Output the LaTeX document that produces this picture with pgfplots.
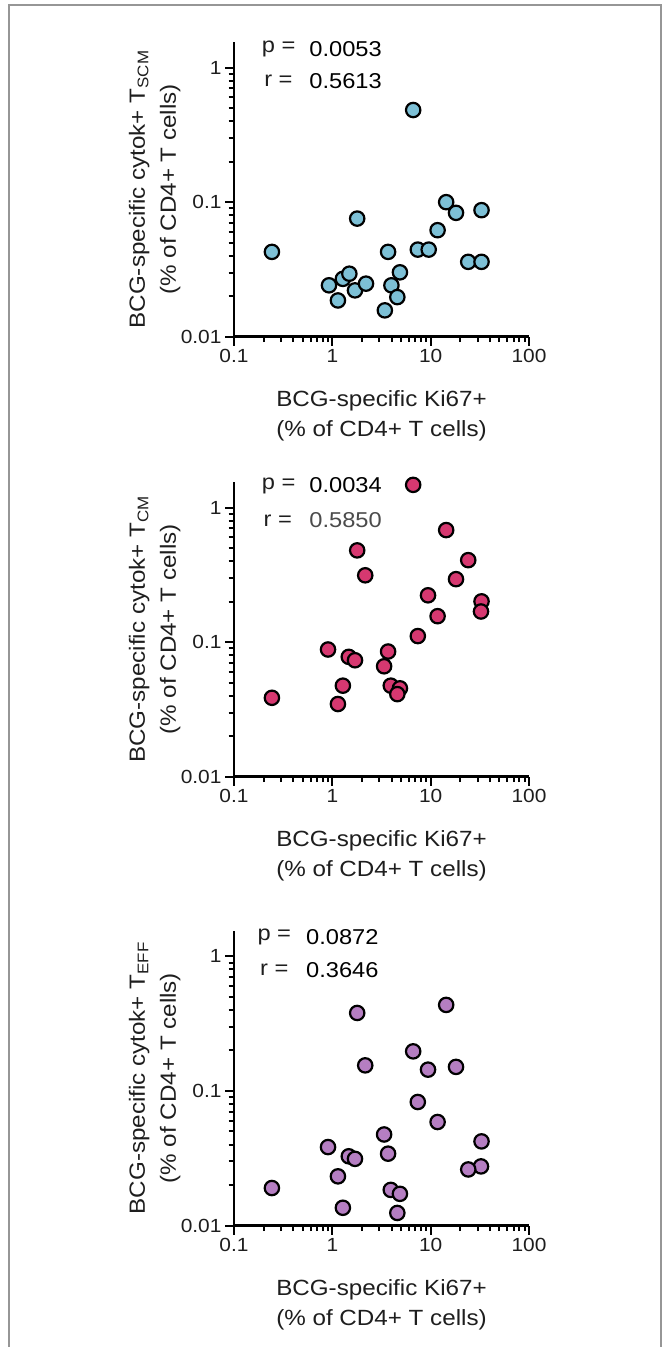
\documentclass[border=0pt]{standalone}
\usepackage{pgfplots}
\pgfplotsset{compat=1.18}
\usepackage{fontspec}
\setmainfont{Liberation Sans}[FakeStretch=1.1]
\definecolor{cblue}{RGB}{125,192,214}
\definecolor{cpink}{RGB}{214,56,112}
\definecolor{cpurple}{RGB}{181,126,194}
\definecolor{txt}{RGB}{30,30,30}
\definecolor{txtb}{RGB}{75,75,75}
\definecolor{framec}{RGB}{150,150,150}

\pgfplotstableread{
x y
0.243 0.0427
6.64 0.484
1.79 0.0755
0.925 0.0241
1.14 0.0186
1.28 0.0269
1.49 0.0294
1.70 0.0221
2.20 0.0248
3.42 0.0157
3.69 0.0427
3.99 0.0241
4.58 0.0197
4.87 0.0301
7.40 0.0444
9.55 0.0444
11.76 0.0619
14.38 0.100
18.1 0.0833
24.1 0.0360
32.9 0.0360
32.9 0.0872
}\datascm

\pgfplotstableread{
x y
0.243 0.0386
6.64 1.476
1.79 0.481
2.16 0.314
0.904 0.0882
1.47 0.0778
1.70 0.0734
1.28 0.0475
1.14 0.0347
3.36 0.0662
3.69 0.0852
3.93 0.0475
4.87 0.0454
4.58 0.0411
7.40 0.111
9.40 0.223
11.76 0.156
14.38 0.681
18.1 0.294
24.1 0.407
32.9 0.201
32.5 0.169
}\datacm

\pgfplotstableread{
x y
0.243 0.0190
2.16 0.155
6.64 0.197
9.40 0.144
18.1 0.151
1.79 0.380
14.38 0.436
7.40 0.0828
11.76 0.0588
0.904 0.0383
1.47 0.0327
1.70 0.0313
1.14 0.0232
1.28 0.01355
3.36 0.0475
3.69 0.0342
3.93 0.0184
4.87 0.0172
4.58 0.0124
32.9 0.0422
32.5 0.0275
24.1 0.0261
}\dataeff

\begin{document}
\begin{tikzpicture}
\path[use as bounding box] (0,0) rectangle (667pt,-1347pt);
\fill[white] (0,0) rectangle (667pt,-1347pt);
\draw[framec, line width=1.3pt] (9pt,-1347pt) -- (9pt,-5pt) -- (661pt,-5pt) -- (661pt,-1347pt);

% Panel 1
\begin{axis}[at={(234pt,-336.7pt)}, anchor=south west,
    xmode=log, ymode=log, scale only axis,
    width=295pt, height=294.7pt,
    xmin=0.1, xmax=100, ymin=0.01, ymax=1.55,
    axis x line=bottom, axis y line=left,
    axis line style={-, line width=2.9pt, black},
    tick align=outside,
    major tick length=9pt, minor tick length=5.5pt,
    tick style={black, line width=2pt},
    xtick={0.1,1,10,100}, xticklabels={0.1,1,10,100},
    ytick={0.01,0.1,1}, yticklabels={0.01,0.1,1},
    minor xtick={0.2,0.3,0.4,0.5,0.6,0.7,0.8,0.9,2,3,4,5,6,7,8,9,20,30,40,50,60,70,80,90},
    minor ytick={0.02,0.03,0.04,0.05,0.06,0.07,0.08,0.09,0.2,0.3,0.4,0.5,0.6,0.7,0.8,0.9},
    tick label style={font=\fontsize{19}{21}\selectfont, text=txt},
    xlabel={BCG-specific Ki67+\\(\% of CD4+ T cells)},
    xlabel style={at={(axis description cs:0.5,-0.181)}, anchor=north, inner sep=0pt,
      align=center, font=\fontsize{22}{30}\selectfont, text=txt},
    ylabel style={at={(axis description cs:-0.181,0.5)}, anchor=south, inner sep=0pt,
      align=center, font=\fontsize{22}{31}\selectfont, text=txt},
    clip=false,
  ylabel={BCG-specific cytok+ T\textsubscript{SCM}\\(\% of CD4+ T cells)}]
\addplot[only marks, mark=*, mark size=7.2pt, mark options={draw=black, line width=2.2pt, fill=cblue}] table {\datascm};
\node[anchor=west, inner sep=0pt, font=\fontsize{21.5}{24}\selectfont, text=txt] at (axis description cs:0.094,0.975) {p =};
\node[anchor=west, inner sep=0pt, font=\fontsize{21.5}{24}\selectfont, text=txt] at (axis description cs:0.102,0.868) {r =};
\node[anchor=west, inner sep=0pt, font=\fontsize{21.5}{24}\selectfont, text=black] at (axis description cs:0.255,0.975) {0.0053};
\node[anchor=west, inner sep=0pt, font=\fontsize{21.5}{24}\selectfont, text=black] at (axis description cs:0.255,0.868) {0.5613};
\end{axis}

% Panel 2
\begin{axis}[at={(234pt,-776.7pt)}, anchor=south west,
    xmode=log, ymode=log, scale only axis,
    width=295pt, height=294.7pt,
    xmin=0.1, xmax=100, ymin=0.01, ymax=1.55,
    axis x line=bottom, axis y line=left,
    axis line style={-, line width=2.9pt, black},
    tick align=outside,
    major tick length=9pt, minor tick length=5.5pt,
    tick style={black, line width=2pt},
    xtick={0.1,1,10,100}, xticklabels={0.1,1,10,100},
    ytick={0.01,0.1,1}, yticklabels={0.01,0.1,1},
    minor xtick={0.2,0.3,0.4,0.5,0.6,0.7,0.8,0.9,2,3,4,5,6,7,8,9,20,30,40,50,60,70,80,90},
    minor ytick={0.02,0.03,0.04,0.05,0.06,0.07,0.08,0.09,0.2,0.3,0.4,0.5,0.6,0.7,0.8,0.9},
    tick label style={font=\fontsize{19}{21}\selectfont, text=txt},
    xlabel={BCG-specific Ki67+\\(\% of CD4+ T cells)},
    xlabel style={at={(axis description cs:0.5,-0.181)}, anchor=north, inner sep=0pt,
      align=center, font=\fontsize{22}{30}\selectfont, text=txt},
    ylabel style={at={(axis description cs:-0.181,0.5)}, anchor=south, inner sep=0pt,
      align=center, font=\fontsize{22}{31}\selectfont, text=txt},
    clip=false,
  ylabel={BCG-specific cytok+ T\textsubscript{CM}\\(\% of CD4+ T cells)}]
\addplot[only marks, mark=*, mark size=7.2pt, mark options={draw=black, line width=2.2pt, fill=cpink}] table {\datacm};
\node[anchor=west, inner sep=0pt, font=\fontsize{21.5}{24}\selectfont, text=txt] at (axis description cs:0.094,0.988) {p =};
\node[anchor=west, inner sep=0pt, font=\fontsize{21.5}{24}\selectfont, text=txt] at (axis description cs:0.100,0.870) {r =};
\node[anchor=west, inner sep=0pt, font=\fontsize{21.5}{24}\selectfont, text=black] at (axis description cs:0.255,0.988) {0.0034};
\node[anchor=west, inner sep=0pt, font=\fontsize{21.5}{24}\selectfont, text=txtb] at (axis description cs:0.255,0.870) {0.5850};
\end{axis}

% Panel 3
\begin{axis}[at={(234pt,-1225.5pt)}, anchor=south west,
    xmode=log, ymode=log, scale only axis,
    width=295pt, height=294.7pt,
    xmin=0.1, xmax=100, ymin=0.01, ymax=1.55,
    axis x line=bottom, axis y line=left,
    axis line style={-, line width=2.9pt, black},
    tick align=outside,
    major tick length=9pt, minor tick length=5.5pt,
    tick style={black, line width=2pt},
    xtick={0.1,1,10,100}, xticklabels={0.1,1,10,100},
    ytick={0.01,0.1,1}, yticklabels={0.01,0.1,1},
    minor xtick={0.2,0.3,0.4,0.5,0.6,0.7,0.8,0.9,2,3,4,5,6,7,8,9,20,30,40,50,60,70,80,90},
    minor ytick={0.02,0.03,0.04,0.05,0.06,0.07,0.08,0.09,0.2,0.3,0.4,0.5,0.6,0.7,0.8,0.9},
    tick label style={font=\fontsize{19}{21}\selectfont, text=txt},
    xlabel={BCG-specific Ki67+\\(\% of CD4+ T cells)},
    xlabel style={at={(axis description cs:0.5,-0.181)}, anchor=north, inner sep=0pt,
      align=center, font=\fontsize{22}{30}\selectfont, text=txt},
    ylabel style={at={(axis description cs:-0.181,0.5)}, anchor=south, inner sep=0pt,
      align=center, font=\fontsize{22}{31}\selectfont, text=txt},
    clip=false,
  ylabel={BCG-specific cytok+ T\textsubscript{EFF}\\(\% of CD4+ T cells)}]
\addplot[only marks, mark=*, mark size=7.2pt, mark options={draw=black, line width=2.2pt, fill=cpurple}] table {\dataeff};
\node[anchor=west, inner sep=0pt, font=\fontsize{21.5}{24}\selectfont, text=txt] at (axis description cs:0.079,0.978) {p =};
\node[anchor=west, inner sep=0pt, font=\fontsize{21.5}{24}\selectfont, text=txt] at (axis description cs:0.088,0.867) {r =};
\node[anchor=west, inner sep=0pt, font=\fontsize{21.5}{24}\selectfont, text=black] at (axis description cs:0.244,0.978) {0.0872};
\node[anchor=west, inner sep=0pt, font=\fontsize{21.5}{24}\selectfont, text=black] at (axis description cs:0.244,0.867) {0.3646};
\end{axis}
\end{tikzpicture}
\end{document}
